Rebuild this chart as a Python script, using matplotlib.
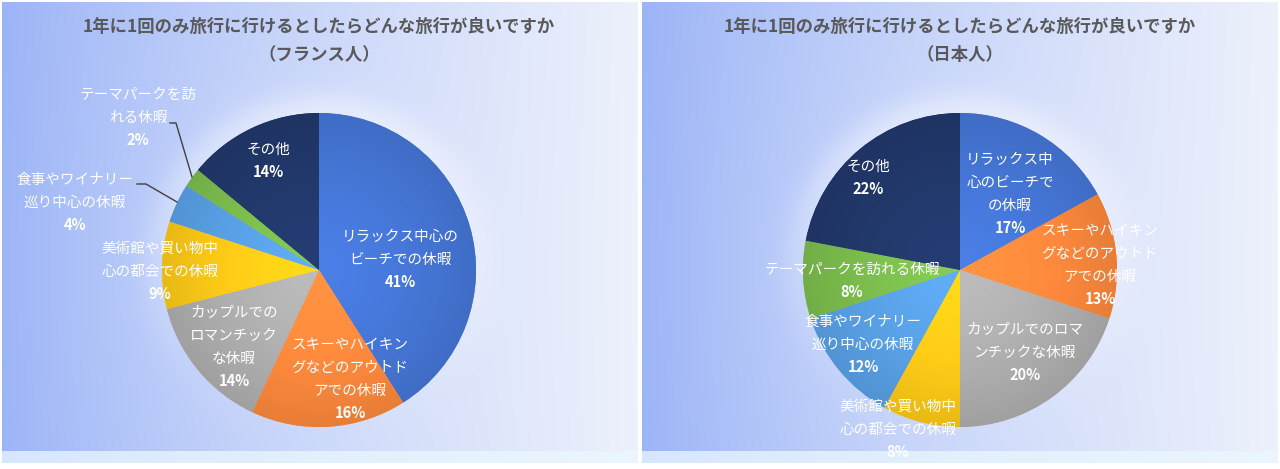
import numpy as np
import matplotlib
matplotlib.use("Agg")
import matplotlib.pyplot as plt
from matplotlib.colors import to_rgb

plt.rcParams['font.family'] = ['Noto Sans CJK JP', 'DejaVu Sans']

TITLE = "1年に1回のみ旅行に行けるとしたらどんな旅行が良いですか"
SUBTITLES = ["（フランス人）", "（日本人）"]

CATEGORIES = ["リラックス中心のビーチでの休暇",
              "スキーやハイキングなどのアウトドアでの休暇",
              "カップルでのロマンチックな休暇",
              "美術館や買い物中心の都会での休暇",
              "食事やワイナリー巡り中心の休暇",
              "テーマパークを訪れる休暇",
              "その他"]
FRANCE = [41, 16, 14, 9, 4, 2, 14]
JAPAN = [17, 13, 20, 8, 12, 8, 22]

# 各グラフでの折り返し位置（Excel のラベル表示どおり）
FRANCE_LABELS = ["リラックス中心の\nビーチでの休暇",
                 "スキーやハイキン\nグなどのアウトド\nアでの休暇",
                 "カップルでの\nロマンチック\nな休暇",
                 "美術館や買い物中\n心の都会での休暇",
                 "食事やワイナリー\n巡り中心の休暇",
                 "テーマパークを訪\nれる休暇",
                 "その他"]
JAPAN_LABELS = ["リラックス中\n心のビーチで\nの休暇",
                "スキーやハイキン\nグなどのアウトド\nアでの休暇",
                "カップルでのロマ\nンチックな休暇",
                "美術館や買い物中\n心の都会での休暇",
                "食事やワイナリー\n巡り中心の休暇",
                "テーマパークを訪れる休暇",
                "その他"]

COLORS = ["#4677D8", "#FF8A3D", "#B0B0B0", "#FFCC17", "#5AA2E8", "#7DBF4E", "#22396C"]

# ---- レイアウト（画素座標, y は下向き） ----
W, H = 1280, 469
PANELS = [(2, 638), (642, 1278)]
PANEL_Y = (2, 463)
CENTERS = [(319, 270), (960, 270)]
R = 157
LINE_H = 23
FR_POS = [(400, 237), (350, 345), (234, 313), (160, 249), (75, 180), (138, 95), (268, 150)]
JP_POS = [(1010, 160), (1100, 231), (1025, 330), (898, 407), (863, 322), (852, 270), (868, 167)]
FR_LEADERS = [[(137, 184), (146, 184), (177, 202)],
              [(170, 123), (176, 123), (192, 177)]]

fig = plt.figure(figsize=(12.8, 4.69), dpi=100)
ax = fig.add_axes([0, 0, 1, 1])


def panel_bg(x0, x1, center):
    xs = np.arange(x0, x1) + 0.5
    ys = np.arange(PANEL_Y[0], PANEL_Y[1]) + 0.5
    X, Y = np.meshgrid(xs, ys)
    t = ((X - x0) / (x1 - x0)) ** 0.85
    left = np.array(to_rgb("#9AB3F7"))
    right = np.array(to_rgb("#EDF1FC"))
    img = left * (1 - t[..., None]) + right * t[..., None]
    d = np.hypot(X - center[0], Y - center[1])
    up = np.clip(0.5 - 0.5 * (Y - center[1]) / np.maximum(d, 1), 0, 1)
    glow = 0.38 * up * np.exp(-((d - R) / 22.0) ** 2) * (d > R - 5)
    glow += 0.16 * np.exp(-(d / 240.0) ** 2)
    img = img + (1 - img) * np.clip(glow, 0, 1)[..., None]
    # 下端の明るい帯
    strip = Y > 451
    img[strip] = img[strip] * 0.25 + np.array(to_rgb("#EAF7FE")) * 0.75
    ax.imshow(img, extent=[x0, x1, PANEL_Y[1], PANEL_Y[0]], zorder=0,
              interpolation="bilinear")


def draw_pie(values, labels, positions, center):
    wedges, _ = ax.pie(values, colors=COLORS, startangle=270, counterclock=True,
                       center=center, radius=R,
                       wedgeprops=dict(linewidth=0))
    # 中心が明るく外周が暗い放射グラデーション
    n = 400
    g = np.linspace(-1, 1, n)
    GX, GY = np.meshgrid(g, g)
    rr = np.clip(np.hypot(GX, GY), 0, 1)
    shade = 1.07 - 0.16 * rr ** 1.5
    for w, c in zip(wedges, COLORS):
        base = np.array(to_rgb(c))
        img = np.clip(base * shade[..., None], 0, 1)
        im = ax.imshow(img, extent=[center[0] - R, center[0] + R, center[1] + R, center[1] - R],
                       zorder=2, interpolation="bilinear")
        im.set_clip_path(w)
    for v, lab, (x, y) in zip(values, labels, positions):
        lines = lab.split("\n")
        for i, ln in enumerate(lines):
            ax.text(x, y + i * LINE_H, ln, ha="center", va="center",
                    color="white", fontsize=10.5, zorder=5)
        ax.text(x, y + len(lines) * LINE_H - 1, f"{v}%", ha="center", va="center",
                color="white", fontsize=10.5, fontweight="bold", zorder=5)


for (x0, x1), c in zip(PANELS, CENTERS):
    panel_bg(x0, x1, c)

draw_pie(FRANCE, FRANCE_LABELS, FR_POS, CENTERS[0])
draw_pie(JAPAN, JAPAN_LABELS, JP_POS, CENTERS[1])

for pts in FR_LEADERS:
    xs, ys = zip(*pts)
    ax.plot(xs, ys, color="#404040", lw=1, zorder=4)

for c, sub in zip(CENTERS, SUBTITLES):
    ax.text(c[0], 27, TITLE, ha="center", va="center", fontsize=12.5,
            fontweight="bold", color="#595959", zorder=5)
    ax.text(c[0], 55, sub, ha="center", va="center", fontsize=12.5,
            fontweight="bold", color="#595959", zorder=5)

ax.set_xlim(0, W)
ax.set_ylim(H, 0)
ax.set_aspect("auto")
ax.axis("off")
fig.savefig("out.png", dpi=100, facecolor="white")
